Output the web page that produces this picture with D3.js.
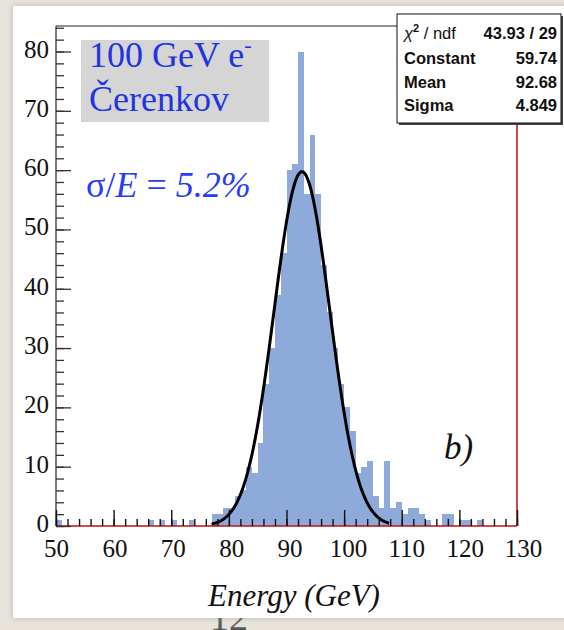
<!DOCTYPE html>
<html><head><meta charset="utf-8">
<script src="https://cdn.jsdelivr.net/npm/d3@7"></script>
<style>html,body{margin:0;padding:0;background:#e8e4db;} svg{display:block}</style>
</head><body>
<svg id="c" width="564" height="630"></svg>
<script>
// ---- data ----
const binLow = [50,66,68,70,73,77,78,79,80,81,82,83,84,85,86,87,88,89,90,91,92,93,94,95,96,97,98,99,100,101,102,103,104,105,106,107,108,109,110,111,112,113,114,117,118,120,121,123];
const counts = [1,1,1,1,1,2,2,3,3,5,6,10,9,14,24,30,39,46,60,61,80,56,66,56,44,36,30,24,20,16,9,10,11,5,3,11,3,4,2,3,3,2,1,2,2,1,1,1];
const binWidth = 1;
const xTicks = [50,60,70,80,90,100,110,120,130];
const yTicks = [0,10,20,30,40,50,60,70,80];
const statNames = ["Constant","Mean","Sigma"];
const statValues = ["59.74","92.68","4.849"];
const chi2Value = "43.93 / 29";
const fitConstant = 59.74, fitMean = 92.68, fitSigma = 4.849;
const fitRange = [77, 107.8];

const svg = d3.select('#c');
const serif = "'Liberation Serif','Times New Roman',serif";
const sans = "'Liberation Sans',Arial,sans-serif";

const defs = svg.append('defs');
const f = defs.append('filter').attr('id','sh').attr('x','-5%').attr('y','-5%').attr('width','110%').attr('height','110%');
f.append('feDropShadow').attr('dx',0).attr('dy',0).attr('stdDeviation',3).attr('flood-color','#9a968e').attr('flood-opacity',0.6);
svg.append('rect').attr('width',564).attr('height',630).attr('fill','#e8e4db');

// slide page number, partly hidden below the white panel
svg.append('text').attr('x',229).attr('y',630).attr('text-anchor','middle')
  .attr('font-family',serif).attr('font-size',38).attr('fill','#5a5a5a').text('12');

// white panel
svg.append('rect').attr('x',13).attr('y',6).attr('width',560).attr('height',612)
  .attr('fill','#ffffff').attr('filter','url(#sh)');

const x = d3.scaleLinear().domain([50,130]).range([56,517]);
const y = d3.scaleLinear().domain([0,84.3]).range([526,26]);

// bars
svg.append('g').selectAll('rect').data(binLow).join('rect')
  .attr('x', d => x(d))
  .attr('width', d => x(d + binWidth) - x(d))
  .attr('y', (d,i) => y(counts[i]))
  .attr('height', (d,i) => y(0) - y(counts[i]))
  .attr('fill','#8eaadb')
  .attr('shape-rendering','crispEdges');

// frame
svg.append('line').attr('x1',56).attr('x2',397).attr('y1',26).attr('y2',26).attr('stroke','#222').attr('stroke-width',1.2);
svg.append('line').attr('x1',517).attr('x2',517).attr('y1',124).attr('y2',526).attr('stroke','#b01010').attr('stroke-width',1.5);
svg.append('line').attr('x1',56).attr('x2',517).attr('y1',526).attr('y2',526).attr('stroke','#c01010').attr('stroke-width',1.5);
svg.append('line').attr('x1',56).attr('x2',56).attr('y1',26).attr('y2',526).attr('stroke','#333').attr('stroke-width',1.3);

// y axis
const yMinor = svg.append('g').attr('transform','translate(56,0)')
  .call(d3.axisLeft(y).tickValues(d3.range(0,84.3,2)).tickSize(-8).tickFormat(''));
const yMajor = svg.append('g').attr('transform','translate(56,0)')
  .call(d3.axisLeft(y).tickValues(yTicks).tickSize(-15).tickPadding(7));
[yMinor,yMajor].forEach(g => { g.select('.domain').remove(); g.selectAll('line').attr('stroke','#333').attr('stroke-width',1.3); });
yMajor.selectAll('text').attr('font-family',serif).attr('font-size',25).attr('fill','#111').attr('dy','0.22em');

// x axis
const xMinor = svg.append('g').attr('transform','translate(0,526)')
  .call(d3.axisBottom(x).tickValues(d3.range(50,131,2)).tickSize(-7).tickFormat(''));
const xMajor = svg.append('g').attr('transform','translate(0,526)')
  .call(d3.axisBottom(x).tickValues(xTicks).tickSize(-16).tickPadding(13));
[xMinor,xMajor].forEach(g => { g.select('.domain').remove(); g.selectAll('line').attr('stroke','#111').attr('stroke-width',1.4); });
xMajor.selectAll('text').attr('font-family',serif).attr('font-size',25).attr('fill','#111')
  .attr('dx', d => ((d - 50) / 80 * 6) + 'px');

// Gaussian fit curve (from the fit parameters shown in the stats box)
const gx = d3.range(fitRange[0], fitRange[1] + 0.001, 0.1);
const gauss = v => fitConstant * Math.exp(-0.5 * Math.pow((v - fitMean) / fitSigma, 2));
svg.append('path').datum(gx)
  .attr('d', d3.line().x(d => x(d)).y(d => y(gauss(d))).curve(d3.curveLinear))
  .attr('fill','none').attr('stroke','#000').attr('stroke-width',3);

// label box
svg.append('rect').attr('x',81).attr('y',40).attr('width',188).attr('height',82).attr('fill','#d5d5d5');
const blue = '#2233e0';
const t1 = svg.append('text').attr('x',89).attr('y',67).attr('font-family',serif).attr('font-size',36).attr('fill',blue);
t1.append('tspan').text('100 GeV e');
t1.append('tspan').attr('dy',-15).attr('font-size',22).text('-');
svg.append('text').attr('x',89).attr('y',111).attr('font-family',serif).attr('font-size',36).attr('fill',blue).text('Čerenkov');

const t2 = svg.append('text').attr('x',86).attr('y',197).attr('font-family',serif).attr('font-size',36).attr('fill','#2a3cf5');
t2.append('tspan').text('σ/');
t2.append('tspan').attr('font-style','italic').text('E');
t2.append('tspan').text(' = ');
t2.append('tspan').attr('font-style','italic').text('5.2%');

// b)
svg.append('text').attr('x',444).attr('y',459).attr('font-family',serif).attr('font-style','italic')
  .attr('font-size',35).attr('fill','#111').text('b)');

// axis title
svg.append('text').attr('x',294).attr('y',606).attr('text-anchor','middle').attr('font-family',serif)
  .attr('font-style','italic').attr('font-size',31).attr('fill','#111').text('Energy (GeV)');

// stats box
svg.append('rect').attr('x',399).attr('y',16).attr('width',164).attr('height',109).attr('fill','#444');
svg.append('rect').attr('x',397).attr('y',14).attr('width',164).attr('height',109).attr('fill','#fff').attr('stroke','#111').attr('stroke-width',1);
const rowY = [39, 64, 88, 111];
const fs = 16.5;
const c2 = svg.append('text').attr('x',404).attr('y',rowY[0]).attr('font-family',sans).attr('font-size',fs).attr('fill','#111');
c2.append('tspan').attr('font-style','italic').text('χ');
c2.append('tspan').attr('dy',-7).attr('font-size',11).attr('font-weight','bold').text('2');
c2.append('tspan').attr('dy',7).text(' / ndf');
svg.append('text').attr('x',557).attr('y',rowY[0]).attr('text-anchor','end').attr('font-family',sans)
  .attr('font-weight','bold').attr('font-size',fs).attr('fill','#111').text(chi2Value);
statNames.forEach((n,i) => {
  svg.append('text').attr('x',404).attr('y',rowY[i+1]).attr('font-family',sans).attr('font-weight','bold')
    .attr('font-size',fs).attr('fill','#111').text(n);
  svg.append('text').attr('x',557).attr('y',rowY[i+1]).attr('text-anchor','end').attr('font-family',sans)
    .attr('font-weight','bold').attr('font-size',fs).attr('fill','#111').text(statValues[i]);
});
</script>
</body></html>
